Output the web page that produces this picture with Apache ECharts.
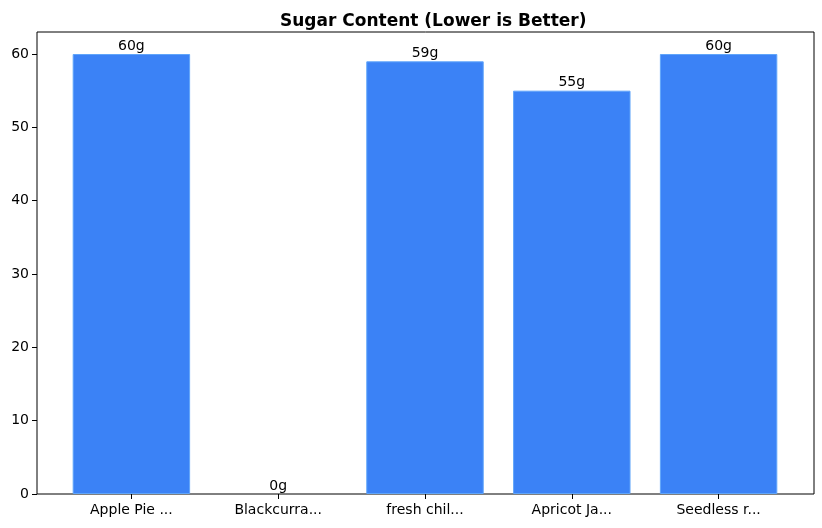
<!DOCTYPE html>
<html><head><meta charset="utf-8">
<script src="https://cdn.jsdelivr.net/npm/echarts@6/dist/echarts.min.js"></script>
<style>html,body{margin:0;padding:0;background:#fff}#c{width:822px;height:528px}</style>
</head><body><div id="c"></div>
<script>
const categories = ["Apple Pie ...", "Blackcurra...", "fresh chil...", "Apricot Ja...", "Seedless r..."];
const sugar = [60, 0, 59, 55, 60];
const yTicks = [0, 10, 20, 30, 40, 50, 60];

const font = "DejaVu Sans";
const chart = echarts.init(document.getElementById('c'), null, {renderer: 'canvas'});
chart.setOption({
  animation: false,
  backgroundColor: '#fff',
  title: {text: 'Sugar Content (Lower is Better)', left: 275, top: 8,
    textStyle: {fontFamily: font, fontWeight: 'bold', fontSize: 17, color: '#000'}},
  grid: [
    {left: 58, top: 32, width: 734, height: 462},
    {left: 37, top: 32, width: 777, height: 462, show: true, borderColor: '#000', borderWidth: 1, backgroundColor: 'transparent'}
  ],
  xAxis: [
    {type: 'category', gridIndex: 0, data: categories, boundaryGap: true,
      axisLine: {show: false},
      axisTick: {show: true, alignWithLabel: true, length: 5, lineStyle: {color: '#000'}},
      axisLabel: {fontFamily: font, fontSize: 14, color: '#000', margin: 9, interval: 0}},
    {type: 'value', gridIndex: 1, show: false, min: 0, max: 1}
  ],
  yAxis: [
    {type: 'value', gridIndex: 0, min: 0, max: 63, interval: 10, offset: 21,
      axisLine: {show: false}, splitLine: {show: false},
      axisTick: {show: true, length: 5, lineStyle: {color: '#000'}, customValues: yTicks},
      axisLabel: {fontFamily: font, fontSize: 14, color: '#000', margin: 8, customValues: yTicks}},
    {type: 'value', gridIndex: 1, show: false, min: 0, max: 1}
  ],
  series: [{
    type: 'bar', xAxisIndex: 0, yAxisIndex: 0,
    data: sugar.map(v => v === 0 ? {value: v, itemStyle: {borderWidth: 0}} : v),
    barWidth: '80%',
    itemStyle: {color: '#3b82f6', borderColor: '#60a5fa', borderWidth: 1},
    label: {show: true, position: 'top', distance: 1, formatter: p => p.value + 'g',
      fontFamily: font, fontSize: 14, color: '#000'}
  }]
});
</script></body></html>
